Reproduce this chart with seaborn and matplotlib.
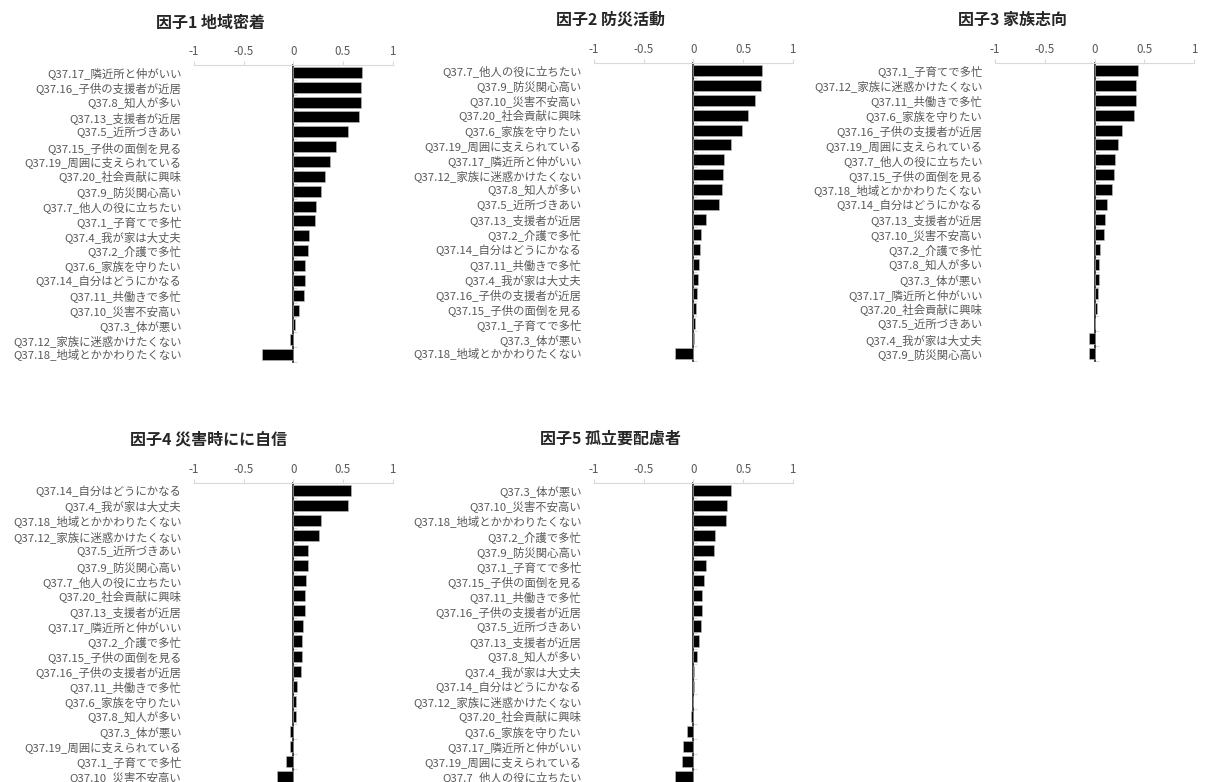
import numpy as np
import pandas as pd
import matplotlib
matplotlib.use("Agg")
import matplotlib.pyplot as plt
import seaborn as sns

sns.set_theme(style="white")
plt.rcParams["font.family"] = ["Noto Sans CJK JP", "DejaVu Sans"]

# ---- factor loadings per factor (items listed top to bottom) ----
f1_title = "因子1 地域密着"
f1_items = ["Q37.17_隣近所と仲がいい", "Q37.16_子供の支援者が近居", "Q37.8_知人が多い",
            "Q37.13_支援者が近居", "Q37.5_近所づきあい", "Q37.15_子供の面倒を見る",
            "Q37.19_周囲に支えられている", "Q37.20_社会貢献に興味", "Q37.9_防災関心高い",
            "Q37.7_他人の役に立ちたい", "Q37.1_子育てで多忙", "Q37.4_我が家は大丈夫",
            "Q37.2_介護で多忙", "Q37.6_家族を守りたい", "Q37.14_自分はどうにかなる",
            "Q37.11_共働きで多忙", "Q37.10_災害不安高い", "Q37.3_体が悪い",
            "Q37.12_家族に迷惑かけたくない", "Q37.18_地域とかかわりたくない"]
f1_values = [0.697, 0.685, 0.683, 0.660, 0.556, 0.432, 0.368, 0.315, 0.278, 0.231,
             0.221, 0.161, 0.144, 0.118, 0.117, 0.104, 0.054, 0.017, -0.034, -0.318]

f2_title = "因子2 防災活動"
f2_items = ["Q37.7_他人の役に立ちたい", "Q37.9_防災関心高い", "Q37.10_災害不安高い",
            "Q37.20_社会貢献に興味", "Q37.6_家族を守りたい", "Q37.19_周囲に支えられている",
            "Q37.17_隣近所と仲がいい", "Q37.12_家族に迷惑かけたくない", "Q37.8_知人が多い",
            "Q37.5_近所づきあい", "Q37.13_支援者が近居", "Q37.2_介護で多忙",
            "Q37.14_自分はどうにかなる", "Q37.11_共働きで多忙", "Q37.4_我が家は大丈夫",
            "Q37.16_子供の支援者が近居", "Q37.15_子供の面倒を見る", "Q37.1_子育てで多忙",
            "Q37.3_体が悪い", "Q37.18_地域とかかわりたくない"]
f2_values = [0.696, 0.682, 0.618, 0.548, 0.494, 0.383, 0.306, 0.299, 0.292, 0.259,
             0.124, 0.077, 0.071, 0.060, 0.047, 0.040, 0.030, 0.020, 0.003, -0.188]

f3_title = "因子3 家族志向"
f3_items = ["Q37.1_子育てで多忙", "Q37.12_家族に迷惑かけたくない", "Q37.11_共働きで多忙",
            "Q37.6_家族を守りたい", "Q37.16_子供の支援者が近居", "Q37.19_周囲に支えられている",
            "Q37.7_他人の役に立ちたい", "Q37.15_子供の面倒を見る", "Q37.18_地域とかかわりたくない",
            "Q37.14_自分はどうにかなる", "Q37.13_支援者が近居", "Q37.10_災害不安高い",
            "Q37.2_介護で多忙", "Q37.8_知人が多い", "Q37.3_体が悪い",
            "Q37.17_隣近所と仲がいい", "Q37.20_社会貢献に興味", "Q37.5_近所づきあい",
            "Q37.4_我が家は大丈夫", "Q37.9_防災関心高い"]
f3_values = [0.435, 0.422, 0.421, 0.395, 0.281, 0.237, 0.204, 0.197, 0.177, 0.124,
             0.110, 0.100, 0.060, 0.048, 0.047, 0.040, 0.027, 0.008, -0.057, -0.058]

f4_title = "因子4 災害時にに自信"
f4_items = ["Q37.14_自分はどうにかなる", "Q37.4_我が家は大丈夫", "Q37.18_地域とかかわりたくない",
            "Q37.12_家族に迷惑かけたくない", "Q37.5_近所づきあい", "Q37.9_防災関心高い",
            "Q37.7_他人の役に立ちたい", "Q37.20_社会貢献に興味", "Q37.13_支援者が近居",
            "Q37.17_隣近所と仲がいい", "Q37.2_介護で多忙", "Q37.15_子供の面倒を見る",
            "Q37.16_子供の支援者が近居", "Q37.11_共働きで多忙", "Q37.6_家族を守りたい",
            "Q37.8_知人が多い", "Q37.3_体が悪い", "Q37.19_周囲に支えられている",
            "Q37.1_子育てで多忙", "Q37.10_災害不安高い"]
f4_values = [0.585, 0.555, 0.278, 0.261, 0.151, 0.150, 0.130, 0.118, 0.117, 0.094,
             0.087, 0.086, 0.080, 0.040, 0.027, 0.030, -0.030, -0.037, -0.074, -0.164]

f5_title = "因子5 孤立要配慮者"
f5_items = ["Q37.3_体が悪い", "Q37.10_災害不安高い", "Q37.18_地域とかかわりたくない",
            "Q37.2_介護で多忙", "Q37.9_防災関心高い", "Q37.1_子育てで多忙",
            "Q37.15_子供の面倒を見る", "Q37.11_共働きで多忙", "Q37.16_子供の支援者が近居",
            "Q37.5_近所づきあい", "Q37.13_支援者が近居", "Q37.8_知人が多い",
            "Q37.4_我が家は大丈夫", "Q37.14_自分はどうにかなる", "Q37.12_家族に迷惑かけたくない",
            "Q37.20_社会貢献に興味", "Q37.6_家族を守りたい", "Q37.17_隣近所と仲がいい",
            "Q37.19_周囲に支えられている", "Q37.7_他人の役に立ちたい"]
f5_values = [0.380, 0.340, 0.333, 0.219, 0.212, 0.128, 0.108, 0.088, 0.087, 0.081,
             0.060, 0.034, 0.010, 0.002, -0.007, -0.020, -0.060, -0.100, -0.110, -0.180]

x_ticks = [-1, -0.5, 0, 0.5, 1]
x_tick_labels = ["-1", "-0.5", "0", "0.5", "1"]

# ---- layout (pixel boxes: left, top, right, bottom) ----
W, H = 1212, 782
panels = [
    (f1_title, f1_items, f1_values, (194, 65, 392.5, 362), (211, 23)),
    (f2_title, f2_items, f2_values, (594, 63, 792.7, 361), (611, 20)),
    (f3_title, f3_items, f3_values, (995, 63, 1194, 361), (1012, 20)),
    (f4_title, f4_items, f4_values, (194, 483, 392.5, 784), (209, 440)),
    (f5_title, f5_items, f5_values, (594, 483, 792.7, 784), (611, 439)),
]

AXIS_GRAY = "#d9d9d9"
TEXT_GRAY = "#595959"

fig = plt.figure(figsize=(W / 100, H / 100), dpi=100)
fig.patch.set_facecolor("white")

for title, items, values, (l, t, r, b), (tx, ty) in panels:
    ax = fig.add_axes([l / W, 1 - b / H, (r - l) / W, (b - t) / H])
    df = pd.DataFrame({"item": items, "loading": values})
    sns.barplot(data=df, x="loading", y="item", order=items, orient="h",
                color="black", saturation=1, width=0.74, ax=ax,
                edgecolor="#bfbfbf", linewidth=0.4)
    ax.set_xlim(-1, 1)
    ax.set_ylim(len(items) - 0.5, -0.5)
    ax.set_xlabel("")
    ax.set_ylabel("")

    # value axis along the top
    ax.xaxis.tick_top()
    ax.set_xticks(x_ticks)
    ax.set_xticklabels(x_tick_labels)
    ax.tick_params(axis="x", which="major", direction="out", length=3, width=0.8,
                   color=AXIS_GRAY, labelsize=8.3, labelcolor=TEXT_GRAY, pad=2)
    ax.tick_params(axis="y", length=0, labelsize=8.2, labelcolor=TEXT_GRAY, pad=9)
    for side in ["left", "right", "bottom"]:
        ax.spines[side].set_visible(False)
    ax.spines["top"].set_color(AXIS_GRAY)
    ax.spines["top"].set_linewidth(0.8)

    # category axis crossing at zero with ticks between categories
    zero_ax = ax.secondary_yaxis(0.5)
    zero_ax.set_yticks(np.arange(-0.5, len(items), 1.0))
    zero_ax.set_yticklabels([])
    zero_ax.tick_params(direction="out", length=3, width=0.8, color=AXIS_GRAY)
    zero_ax.spines["left"].set_color(AXIS_GRAY)
    zero_ax.spines["left"].set_linewidth(0.8)
    zero_ax.spines["left"].set_zorder(0.5)

    fig.text(tx / W, 1 - ty / H, title, ha="center", va="center",
             fontsize=11.5, fontweight="bold", color="#262626")

fig.savefig("out.png", dpi=100, facecolor="white")
